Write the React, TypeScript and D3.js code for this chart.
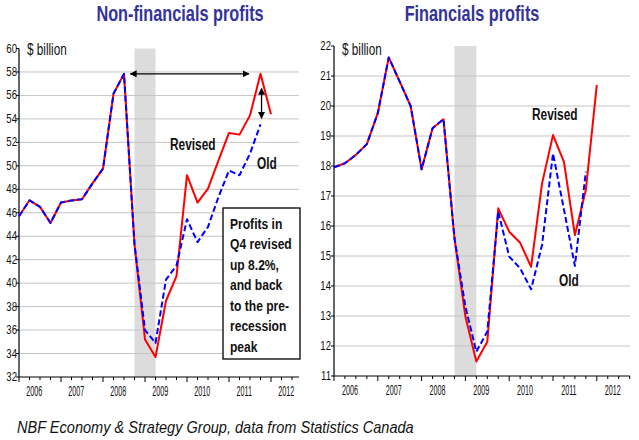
import React from "react";
import * as d3 from "d3";

// ---- data (quarterly, index 0 = first quarter shown in 2006) ----
const years = [2006, 2007, 2008, 2009, 2010, 2011, 2012];

const nonFinRevised = [45.7, 47.06, 46.5, 45.13, 46.87, 47.05, 47.15, 48.5, 49.76, 56.14, 57.84, 43.3, 35.2, 33.7, 38.5, 40.6, 49.2, 46.87, 48.06, 50.47, 52.8, 52.66, 54.3, 57.84, 54.4];
const nonFinOld = [45.7, 47.06, 46.5, 45.13, 46.87, 47.05, 47.15, 48.5, 49.76, 56.14, 57.84, 43.3, 36.0, 34.9, 40.3, 41.5, 45.45, 43.5, 44.8, 47.35, 49.6, 49.2, 51.04, 53.53];

const finRevised = [17.96, 18.09, 18.37, 18.73, 19.76, 21.62, 20.81, 20.0, 17.89, 19.26, 19.56, 15.6, 12.98, 11.48, 12.14, 16.59, 15.81, 15.44, 14.64, 17.42, 19.03, 18.14, 15.7, 17.2, 20.7];
const finOld = [17.96, 18.09, 18.37, 18.73, 19.76, 21.62, 20.81, 20.0, 17.89, 19.26, 19.56, 15.6, 13.31, 11.81, 12.48, 16.48, 14.98, 14.59, 13.89, 15.37, 18.42, 16.55, 14.67, 17.81];

const nonFinTicks = [32, 34, 36, 38, 40, 42, 44, 46, 48, 50, 52, 54, 56, 58, 60];
const finTicks = [11, 12, 13, 14, 15, 16, 17, 18, 19, 20, 21, 22];

const recession = [11, 13];

const noteLines = ["Profits in", "Q4 revised", "up 8.2%,", "and back", "to the pre-", "recession", "peak"];

const FONT = "'Liberation Sans', Arial, sans-serif";

function NText(props: any) {
  const { x, y, size, sx = 1, weight = "normal", anchor = "start", fill = "#111", italic = false, children } = props;
  return (
    <text
      transform={`translate(${x},${y}) scale(${sx},1)`}
      fontSize={size}
      fontWeight={weight}
      textAnchor={anchor}
      fill={fill}
      fontFamily={FONT}
      fontStyle={italic ? "italic" : "normal"}
    >
      {children}
    </text>
  );
}

function Panel(props: any) {
  const { x0, xEnd, qw, yTop, yBottom, domain, ticks, revised, old, title, titleX, tickLabelX, annot } = props;
  const tMax = (xEnd - x0) / qw;
  const x = d3.scaleLinear().domain([0, tMax]).range([x0, xEnd]);
  const y = d3.scaleLinear().domain(domain).range([yBottom, yTop]);
  const line = d3
    .line<number>()
    .x((_, i) => x(i))
    .y((d) => y(d));
  const qTicks = d3.range(0, Math.floor(tMax + 1e-6) + 1);
  return (
    <g>
      <NText x={titleX} y={21} size={22} sx={0.74} weight="bold" anchor="middle" fill="#333399">
        {title}
      </NText>
      {/* recession shading */}
      <rect x={x(recession[0])} y={yTop} width={x(recession[1]) - x(recession[0])} height={yBottom - yTop} fill="#dcdcdc" />
      {/* grid */}
      {ticks.map((t: number, i: number) =>
        i === 0 || i === ticks.length - 1 ? null : (
          <line key={"g" + t} x1={x0} x2={xEnd} y1={y(t)} y2={y(t)} stroke="#c4c4c4" strokeWidth={1} />
        )
      )}
      {/* y axis */}
      <line x1={x0} x2={x0} y1={yTop} y2={yBottom} stroke="#000" strokeWidth={1.2} />
      {ticks.map((t: number) => (
        <g key={"yt" + t}>
          <line x1={x0 - 3} x2={x0} y1={y(t)} y2={y(t)} stroke="#000" strokeWidth={1} />
          <NText x={tickLabelX} y={y(t) + 4} size={12} sx={0.8} anchor="end">
            {t}
          </NText>
        </g>
      ))}
      {/* x axis */}
      <line x1={x0} x2={xEnd} y1={yBottom} y2={yBottom} stroke="#000" strokeWidth={1.2} />
      {qTicks.map((q: number) => (
        <line key={"xt" + q} x1={x(q)} x2={x(q)} y1={yBottom} y2={yBottom + (q % 4 === 0 ? 5 : 3)} stroke="#000" strokeWidth={1} />
      ))}
      {years.map((yr: number, i: number) => (
        <NText key={"yl" + yr} x={x(i * 4 + 1.45)} y={yBottom + 19} size={15} sx={0.48} anchor="middle">
          {yr}
        </NText>
      ))}
      <NText x={x0 + 8} y={55} size={17} sx={0.69}>
        $ billion
      </NText>
      {/* series */}
      <path d={line(revised) || ""} fill="none" stroke="#ff0000" strokeWidth={2} strokeLinejoin="round" />
      <path d={line(old) || ""} fill="none" stroke="#0000ff" strokeWidth={2} strokeDasharray="6,3" strokeLinejoin="round" />
      {annot ? annot(x, y) : null}
    </g>
  );
}

export default function App() {
  return (
    <svg width={639} height={440} style={{ position: "absolute", left: 0, top: 0, background: "#fff" }}>
      <defs>
        <marker id="ah" viewBox="0 0 10 10" refX={9} refY={5} markerWidth={7} markerHeight={7} orient="auto-start-reverse" markerUnits="userSpaceOnUse">
          <path d="M0,0 L10,5 L0,10 z" fill="#000" />
        </marker>
      </defs>
      <rect x={0} y={0} width={639} height={440} fill="#fff" />
      <Panel
        x0={19}
        xEnd={299}
        qw={10.5}
        yTop={48.5}
        yBottom={377}
        domain={[32, 60]}
        ticks={nonFinTicks}
        revised={nonFinRevised}
        old={nonFinOld}
        title="Non-financials profits"
        titleX={180}
        tickLabelX={17}
        annot={(x: any, y: any) => (
          <g>
            <line x1={x(10.6)} x2={x(21.9)} y1={y(57.84)} y2={y(57.84)} stroke="#000" strokeWidth={1.3} markerStart="url(#ah)" markerEnd="url(#ah)" />
            <line x1={x(23.1)} x2={x(23.1)} y1={y(56.6)} y2={y(54.05)} stroke="#000" strokeWidth={1.3} markerStart="url(#ah)" markerEnd="url(#ah)" />
            <NText x={170} y={150} size={17} sx={0.7} weight="bold">
              Revised
            </NText>
            <NText x={257} y={169} size={17} sx={0.7} weight="bold">
              Old
            </NText>
            <rect x={223} y={208} width={77} height={151} fill="#fff" stroke="#000" strokeWidth={1.3} />
            {noteLines.map((l, i) => (
              <NText key={l} x={230} y={228.5 + i * 20.5} size={15.5} sx={0.78} weight="bold">
                {l}
              </NText>
            ))}
          </g>
        )}
      />
      <Panel
        x0={334}
        xEnd={630}
        qw={10.95}
        yTop={46}
        yBottom={376}
        domain={[11, 22]}
        ticks={finTicks}
        revised={finRevised}
        old={finOld}
        title="Financials profits"
        titleX={472}
        tickLabelX={331}
        annot={() => (
          <g>
            <NText x={532} y={120} size={17} sx={0.7} weight="bold">
              Revised
            </NText>
            <NText x={559} y={286} size={17} sx={0.7} weight="bold">
              Old
            </NText>
          </g>
        )}
      />
      <NText x={17} y={433} size={16} sx={0.91} italic>
        NBF Economy &amp; Strategy Group, data from Statistics Canada
      </NText>
    </svg>
  );
}
